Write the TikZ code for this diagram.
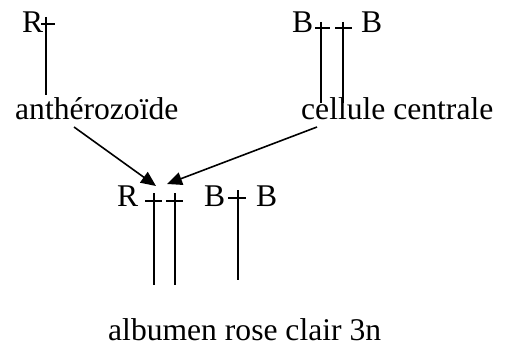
\documentclass[tikz,border=0pt]{standalone}
\usepackage{fontspec}
\setmainfont{Liberation Serif}
\usetikzlibrary{arrows.meta}
\begin{document}
\begin{tikzpicture}[x=1pt,y=-1pt,
  lbl/.style={anchor=base west,inner sep=0pt,font=\fontsize{31.6}{36}\selectfont},
  chr/.style={line width=1.8pt},
  arr/.style={line width=1.6pt,-{Triangle[length=15pt,width=13pt]}}]
\useasboundingbox (0,0) rectangle (508,350);
% top left
\node[lbl] (R1) at (22,33) {R};
\draw[chr] (41,24) -- (55,24);
\draw[chr] (46,17) -- (46,95);
% top right
\node[lbl] (B1) at (292,33) {B};
\node[lbl] (B2) at (361,33) {B};
\draw[chr] (315,28) -- (330,28);
\draw[chr] (321,22) -- (321,103);
\draw[chr] (335,28) -- (352,28);
\draw[chr] (343,22) -- (343,103);
% labels
\node[lbl] (ant) at (15,119) {anthérozoïde};
\node[lbl] (cel) at (301,119) {cellule centrale};
% arrows
\coordinate (a1) at (74,127);
\coordinate (t1) at (156,186);
\coordinate (a2) at (317,127);
\coordinate (t2) at (167,184);
\draw[arr] (a1) -- (t1);
\draw[arr] (a2) -- (t2);
% bottom
\node[lbl] (R2) at (117,206) {R};
\draw[chr] (145,201) -- (162,201);
\draw[chr] (154,193) -- (154,285);
\draw[chr] (166,201) -- (183,201);
\draw[chr] (175,193) -- (175,285);
\node[lbl] (B3) at (204,206) {B};
\draw[chr] (228,198) -- (246,198);
\draw[chr] (238,190) -- (238,280);
\node[lbl] (B4) at (256,206) {B};
\node[lbl] (alb) at (108,340) {albumen rose clair 3n};
\end{tikzpicture}
\end{document}
